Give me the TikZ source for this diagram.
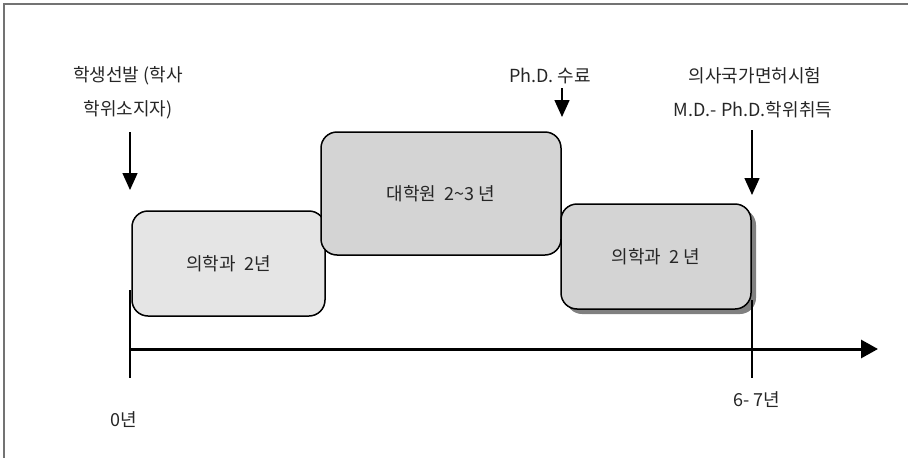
\documentclass[tikz,border=0pt]{standalone}
\usepackage{fontspec}
\setmainfont{Noto Sans CJK KR}
\usetikzlibrary{arrows.meta,shadows}
\begin{document}
\begin{tikzpicture}
      [x=1pt,y=-1pt
      ,txt/.style={font=\fontsize{18}{21}\selectfont,inner sep=0pt,color=black!85}
      ,yearbox/.style={draw,line width=1.5pt,rounded corners=16pt,inner sep=0pt,font=\fontsize{18}{21}\selectfont,text=black!85}
      ,fil1/.style={fill=black!10}
      ,fil2/.style={fill=black!17}
      ,down/.style={line width=1.5pt,-{Triangle[width=15pt,length=17pt]}}
      ,lin/.style={line width=1.3pt}
      ]
        \useasboundingbox (0,0) rectangle (908,458);
        \draw[color=black!55,line width=1.2pt] (4,458) -- (4,4) -- (908,4);

        % boxes
        \node[yearbox,fil1,minimum width=193pt,minimum height=105pt] (med1) at (228.5,263.5) {의학과 \ 2년};
        \node[yearbox,fil2,minimum width=240pt,minimum height=123pt] (grad) at (441,193.5) {대학원 \ 2\textasciitilde 3 년};
        \node[yearbox,fil2,minimum width=190pt,minimum height=105pt
             ,drop shadow={shadow xshift=5pt,shadow yshift=-5pt,fill=black!50,opacity=1}] (med2) at (656,256.5) {의학과 \ 2 년};

        % labels above
        \node[txt] (sel1) at (128,76) {학생선발 (학사};
        \node[txt] (sel2) at (128,110) {학위소지자)};
        \node[txt] (phd) at (550,76) {Ph.D. 수료};
        \node[txt] (exam1) at (755,76) {의사국가면허시험};
        \node[txt] (exam2) at (753,110) {M.D.- Ph.D.학위취득};

        \coordinate (a1) at (130,190);
        \coordinate (a2) at (562,117);
        \coordinate (a3) at (752,195);
        \draw[down] (130,132) -- (a1);
        \draw[down] (562,88) -- (a2);
        \draw[down] (752,130) -- (a3);

        % time axis
        \coordinate (t0) at (130,349);
        \coordinate (tend) at (878,349);
        \draw[line width=3pt,-{Triangle[width=18pt,length=17pt]}] (t0) -- (tend);
        \draw[lin] (130,290) -- (130,378);
        \draw[lin] (752,300) -- (752,378);
        \node[txt] (y0) at (124,420) {0년};
        \node[txt] (y7) at (757,400) {6- 7년};
      \end{tikzpicture}
\end{document}
